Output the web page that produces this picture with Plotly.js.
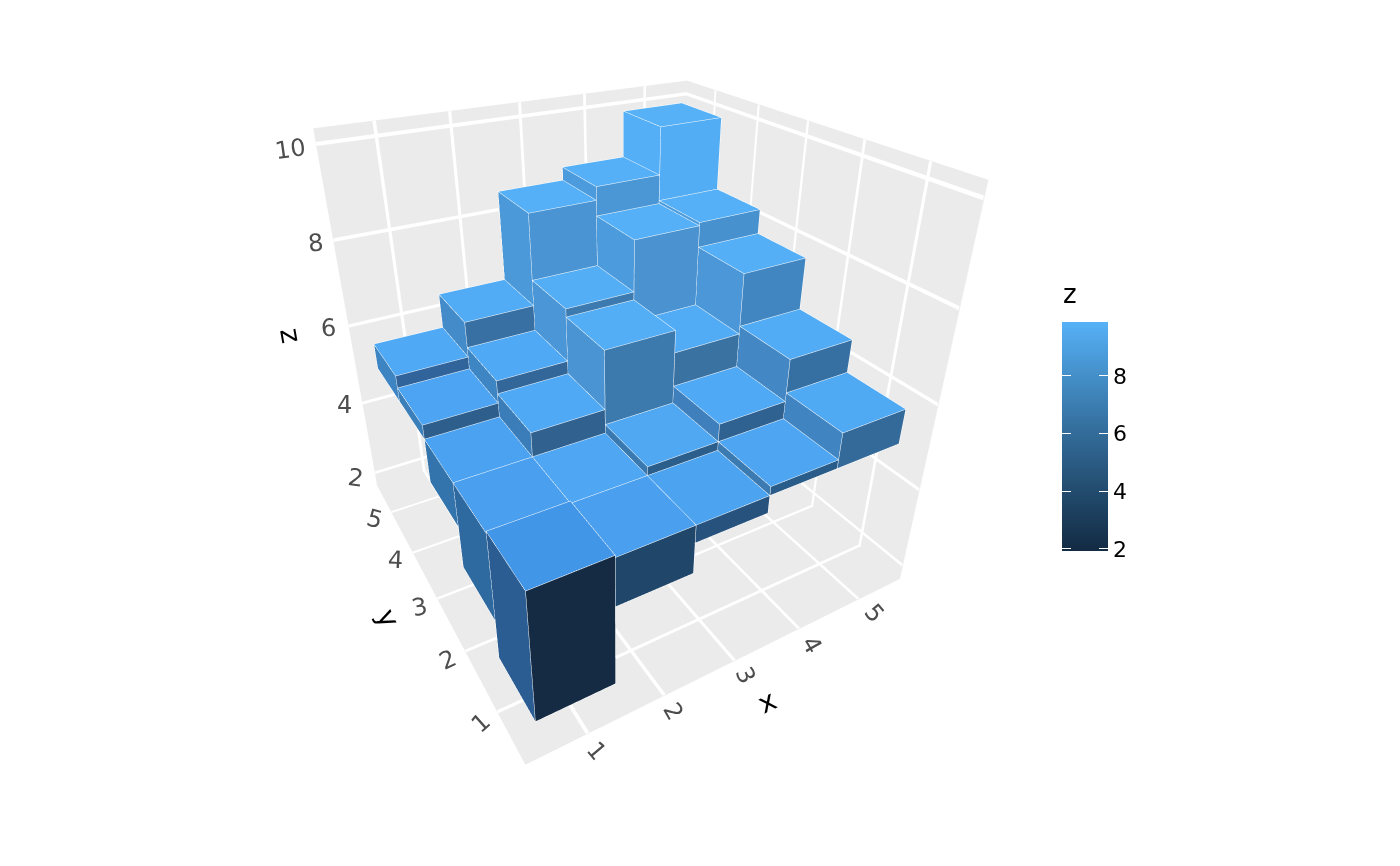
<!DOCTYPE html>
<html><head><meta charset="utf-8">
<script src="https://cdn.plot.ly/plotly-3.0.1.min.js"></script>
<style>html,body{margin:0;padding:0;background:#fff;overflow:hidden;width:1400px;height:866px}#p{position:absolute;left:0;top:-56px;width:1400px;height:922px}</style>
</head><body><div id="p"></div>
<script>
const xCats=[1,2,3,4,5];
const yCats=[1,2,3,4,5];
// each row is one y value, each column one x value
const zTop=[
 [5.05,5.0,5.0,5.2,5.8],
 [5.0,5.0,5.2,5.6,6.55],
 [5.0,5.55,6.87,6.37,7.72],
 [5.33,5.85,7.05,8.2,8.27],
 [5.62,6.45,8.55,8.85,9.9]];
const zBottom=[
 [2,3.9,4.6,5,5],
 [2.95,5,5,5,5],
 [3.95,5,5,5,5],
 [5,5,5,5,5],
 [5,5,5,5,5]];
const topFill=[
 ['#4296E8','#4A9FEE','#4CA3F0','#4EA6F2','#50A9F3'],
 ['#4A9FEE','#4FA6F2','#50A8F3','#50A9F4','#52ACF5'],
 ['#4BA2F0','#50A9F4','#54AEF6','#52ACF5','#54AFF6'],
 ['#4CA4F2','#50A9F4','#54AEF6','#55B0F7','#55B0F7'],
 ['#50A9F4','#52ACF5','#55B0F7','#55B0F7','#56B1F7']];
const frontFill=[
 ['#152B43','#20476A','#26527D','#2A5C8A','#346A9A'],
 ['#26527D','#2A5C8A','#2C5E8C','#2F6291','#3670A3'],
 ['#2A5C8A','#31628F','#3C79AD','#3A72A2','#4286C1'],
 ['#2E5E8C','#33679A','#3C7AB0','#4A93D0','#4891CF'],
 ['#30649A','#3870A3','#4A94D3','#4B97D6','#53ADF4']];
const leftFill=[
 ['#2B5D93','#3A78B0','#3A78B0','#3C7AB2','#4085C1'],
 ['#2E69A0','#3A78B0','#3A78B0','#3F80BC','#4388C5'],
 ['#3474AD','#3B7DB8','#4A94D3','#3F82BE','#4C97D8'],
 ['#3A7EBA','#3E85C3','#4A96D6','#4C9BDD','#4D9DDD'],
 ['#3C84C2','#448BCA','#4C99D9','#4C9BDD','#55AFF6']];
const colorStops=[[0,'#132B43'],[0.25,'#214A6C'],[0.5,'#326A97'],[0.75,'#438DC6'],[1,'#56B1F7']];
const zTicks=[2,4,6,8,10];
const barTicks=[2,4,6,8];
const xTickAngles=[50,60,65,60,50];
const yTickAngles=[-42,-25,-12,3,15];
const zTickAngles=[8,0,-4,-6,-8];
const xTickShift=[[9,17],[9,15],[11,14],[13,16],[16,13]];
const yTickShift=[[-17,10],[-18,8],[-18,8],[-18,7],[-17,6]];
const zTickShift=[[-19,6],[-18,2],[-20,2],[-18,3],[-25,5]];
const xRange=[0.25,5.75], yRange=[0.25,5.75], zRange=[1.6,10.3];
const scaleRange=[1.93,9.87];

const FONT='DejaVu Sans';
const viewDir=[-.433,-.75,.5];
const vx=[],vy=[],vz=[],fi=[],fj=[],fk=[],fc=[];
const ex=[],ey=[],ez=[];
const eps=.0015;
const off=[viewDir[0]*eps*(xRange[1]-xRange[0]),viewDir[1]*eps*(yRange[1]-yRange[0]),viewDir[2]*eps*(zRange[1]-zRange[0])];
function quad(p,c){
  const n=vx.length;
  p.forEach(q=>{vx.push(q[0]);vy.push(q[1]);vz.push(q[2]);});
  fi.push(n,n);fj.push(n+1,n+2);fk.push(n+2,n+3);fc.push(c,c);
  [0,1,2,3,0].forEach(a=>{ex.push(p[a][0]+off[0]);ey.push(p[a][1]+off[1]);ez.push(p[a][2]+off[2]);});
  ex.push(null);ey.push(null);ez.push(null);
}
yCats.forEach((y,r)=>xCats.forEach((x,c)=>{
  const t=zTop[r][c],b=zBottom[r][c],x0=x-.5,x1=x+.5,y0=y-.5,y1=y+.5;
  quad([[x0,y0,t],[x1,y0,t],[x1,y1,t],[x0,y1,t]],topFill[r][c]);
  if(t>b){
    quad([[x0,y0,b],[x1,y0,b],[x1,y0,t],[x0,y0,t]],frontFill[r][c]);
    quad([[x0,y0,b],[x0,y1,b],[x0,y1,t],[x0,y0,t]],leftFill[r][c]);
  }
}));
// panel grid on the floor and the two back walls, as thin flat strips
const gvx=[],gvy=[],gvz=[],gi=[],gj=[],gk=[];
function strip(p){
  const n=gvx.length;
  p.forEach(q=>{gvx.push(q[0]);gvy.push(q[1]);gvz.push(q[2]);});
  gi.push(n,n);gj.push(n+1,n+2);gk.push(n+2,n+3);
}
const X0=xRange[0],X1=xRange[1],Y0=yRange[0],Y1=yRange[1],Z0=zRange[0],Z1=zRange[1];
const fx=X1-.012,fy=Y1-.012,fz=Z0+.02,hx=.022,hy=.022,hz=.04;
xCats.forEach(x=>{
  strip([[x-hx,Y0,fz],[x+hx,Y0,fz],[x+hx,Y1,fz],[x-hx,Y1,fz]]);
  strip([[x-hx,fy,Z0],[x+hx,fy,Z0],[x+hx,fy,Z1],[x-hx,fy,Z1]]);
});
yCats.forEach(y=>{
  strip([[X0,y-hy,fz],[X1,y-hy,fz],[X1,y+hy,fz],[X0,y+hy,fz]]);
  strip([[fx,y-hy,Z0],[fx,y+hy,Z0],[fx,y+hy,Z1],[fx,y-hy,Z1]]);
});
zTicks.forEach(z=>{
  strip([[X0,fy,z-hz],[X1,fy,z-hz],[X1,fy,z+hz],[X0,fy,z+hz]]);
  strip([[fx,Y0,z-hz],[fx,Y1,z-hz],[fx,Y1,z+hz],[fx,Y0,z+hz]]);
});
const flat={ambient:1,diffuse:0,specular:0,roughness:1,fresnel:0};
const bars={type:'mesh3d',x:vx,y:vy,z:vz,i:fi,j:fj,k:fk,facecolor:fc,flatshading:true,hoverinfo:'skip',lighting:flat,showscale:false};
const grid={type:'mesh3d',x:gvx,y:gvy,z:gvz,i:gi,j:gj,k:gk,color:'#ffffff',flatshading:true,hoverinfo:'skip',lighting:flat,showscale:false};
const edges={type:'scatter3d',mode:'lines',x:ex,y:ey,z:ez,line:{color:'#ffffff',width:1},hoverinfo:'skip',showlegend:false};

const TOP=56,H=922;
const py=v=>1-(v+TOP)/H;
const scaleMarker=cb=>({type:'scatter3d',mode:'markers',x:[3,3],y:[3,3],z:[5,5],hoverinfo:'skip',showlegend:false,
  marker:{size:0.01,opacity:0,color:scaleRange,cmin:scaleRange[0],cmax:scaleRange[1],colorscale:colorStops,showscale:true,colorbar:cb}});
const cbBase={x:1062/1400,xanchor:'left',xpad:0,y:py(551),yanchor:'bottom',ypad:0,thicknessmode:'pixels',len:229,lenmode:'pixels',
    outlinewidth:0,borderwidth:0,tickwidth:1,tickvals:barTicks,ticks:'inside',tickcolor:'#ffffff',ticklen:9};
const cbMain=scaleMarker({...cbBase,thickness:46,tickprefix:'<span style="font-size:12px">\u2800</span>',
    tickfont:{family:FONT,size:22,color:'#000'}});
const cbLeft=scaleMarker({...cbBase,thickness:9,showticklabels:false});

function ax(range){return {title:{text:''},range:range,showticklabels:false,showbackground:true,backgroundcolor:'#EBEBEB',
  showgrid:false,zeroline:false,showline:false,ticks:'',showspikes:false};}
function lab(x,y,z,t,a,size,col,s){return {x:x,y:y,z:z,text:String(t),textangle:a,showarrow:false,xshift:s[0],yshift:-s[1],font:{family:FONT,size:size,color:col}};}
const anns=[];
xCats.forEach((x,i)=>anns.push(lab(x,Y0,Z0,x,xTickAngles[i],24,'#4D4D4D',xTickShift[i])));
yCats.forEach((y,i)=>anns.push(lab(X0,y,Z0,y,yTickAngles[i],24,'#4D4D4D',yTickShift[i])));
zTicks.forEach((z,i)=>anns.push(lab(X0,Y1,z,z,zTickAngles[i],24,'#4D4D4D',zTickShift[i])));
anns.push(lab(3.4,Y0,Z0,'x',-26,28,'#000',[7,54]));
anns.push(lab(X0,3,Z0,'y',65,28,'#000',[-49,19]));
anns.push(lab(X0,Y1,6,'z',80,28,'#000',[-58,10]));

const D=1.99;
const sceneH=840;
const layout={width:1400,height:H,margin:{l:0,r:0,t:0,b:0},paper_bgcolor:'#fff',showlegend:false,
 annotations:[{xref:'paper',yref:'paper',x:1070/1400,xanchor:'center',y:py(294),yanchor:'middle',text:'z',showarrow:false,font:{family:FONT,size:26,color:'#000'}}],
 scene:{domain:{x:[0,1240/1400],y:[(H-sceneH)/H,1]},aspectmode:'manual',aspectratio:{x:1,y:1,z:1},
  camera:{eye:{x:viewDir[0]*D,y:viewDir[1]*D,z:viewDir[2]*D},center:{x:0,y:0,z:0},up:{x:0,y:0,z:1},projection:{type:'perspective'}},
  xaxis:ax(xRange),yaxis:ax(yRange),zaxis:ax(zRange),annotations:anns}};
const gd=document.getElementById('p');
Plotly.newPlot(gd,[bars,grid,edges,cbMain,cbLeft],layout,{displayModeBar:false}).then(()=>{
  const g=gd._fullLayout.scene._scene.glplot;
  g.fovy=2*Math.atan((sceneH/2)/853);
  g.redraw();
});
</script></body></html>
